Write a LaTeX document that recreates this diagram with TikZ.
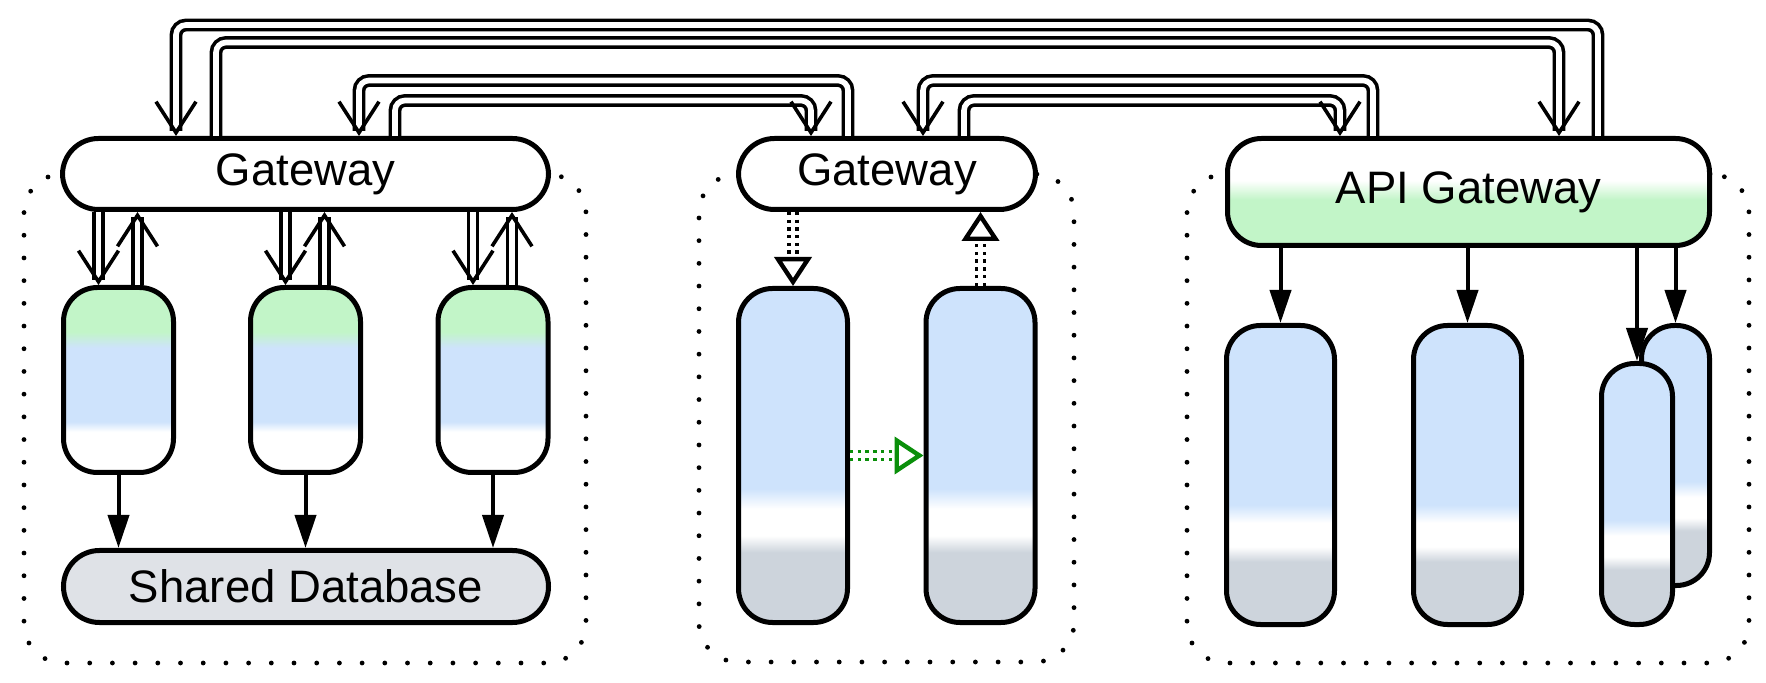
\documentclass[tikz,border=0pt]{standalone}
\usepackage{fontspec}
\setmainfont{Liberation Sans}
\usepackage{xcolor}
\usepackage{tikz}
\usetikzlibrary{positioning,arrows.meta,calc}
\definecolor{ink}{HTML}{000000}
\definecolor{podgreen}{HTML}{C2F5C8}
\definecolor{podblue}{HTML}{CEE3FC}
\definecolor{podgray}{HTML}{CDD4DC}
\definecolor{dbgray}{HTML}{DFE2E7}
\definecolor{syncgreen}{HTML}{0A8F0A}
\pgfdeclareverticalshading{podshade}{100bp}{color(0bp)=(white); color(36bp)=(white); color(38.7bp)=(podblue); color(58.7bp)=(podblue); color(63bp)=(podgreen); color(100bp)=(podgreen)}
\pgfdeclareverticalshading{stackshade}{100bp}{color(0bp)=(podgray); color(35.5bp)=(podgray); color(38bp)=(white); color(42bp)=(white); color(45bp)=(podblue); color(100bp)=(podblue)}
\pgfdeclareverticalshading{apishade}{100bp}{color(0bp)=(podgreen); color(46.4bp)=(podgreen); color(55.4bp)=(white); color(100bp)=(white)}
\tikzset{
  boxbase/.style={draw=ink, line width=2.5pt, inner sep=0pt, font=\fontsize{22.75}{27}\selectfont},
  gate/.style={boxbase, rounded corners=18pt, fill=white},
  svc/.style={boxbase, rounded corners=17pt, shade, shading=stackshade},
  grp/.style={draw=ink, line width=2.4pt, line cap=round, dash pattern=on 0pt off 11.35pt, rounded corners=19.5pt, inner sep=0pt},
  dblarr/.style={draw=ink, double=white, line width=1.8pt, double distance=2.8pt, rounded corners=5pt, -{Straight Barb[length=15.5pt, width=20pt, line width=1.8pt 0 0]}},
  dotarr/.style={draw=ink, double=white, line width=1.7pt, double distance=2.4pt, dash pattern=on 1.7pt off 2.15pt, -{Triangle[open, length=14.5pt, width=18.5pt, line width=2.2pt 0 0]}},
  callarr/.style={draw=ink, line width=2pt, -{Triangle[length=16.5pt, width=10.5pt]}}
}
\begin{document}
\begin{tikzpicture}[x=0.5pt, y=-0.5pt]
  \useasboundingbox (0,0) rectangle (1766,683);
  \node[grp, minimum width=281pt, minimum height=244.5pt] (grpL) at (305,418.5) {};
  \node[grp, minimum width=187.5pt, minimum height=244pt] (grpM) at (886.5,418) {};
  \node[grp, minimum width=281pt, minimum height=244.5pt] (grpR) at (1468,418.5) {};

  \node[gate, minimum width=243pt, minimum height=35.5pt] (gwL) at (305.5,174) {Gateway};
  \foreach \i/\cx in {1/118.5, 2/305.5, 3/493}
    \node[svc, shading=podshade, minimum width=55pt, minimum height=92.5pt] (svcL\i) at (\cx,380) {};
  \node[boxbase, rounded corners=18pt, fill=dbgray, minimum width=242.5pt, minimum height=36pt] (db) at (306,586.5) {Shared Database};

  \node[gate, minimum width=148.5pt, minimum height=35.5pt] (gwM) at (887,174) {Gateway};
  \node[svc, minimum width=54.5pt, minimum height=167pt] (svcM1) at (793,455.5) {};
  \node[svc, minimum width=54.5pt, minimum height=167pt] (svcM2) at (980.5,455.5) {};

  \node[boxbase, rounded corners=17pt, shade, shading=apishade, minimum width=241pt, minimum height=53.5pt] (gwR) at (1468.5,192) {API Gateway};
  \node[svc, minimum width=54pt, minimum height=149.5pt] (svcR1) at (1280.5,475) {};
  \node[svc, minimum width=54pt, minimum height=149.5pt] (svcR2) at (1467.5,475) {};
  \node[svc, rounded corners=16.5pt, minimum width=34pt, minimum height=130pt] (svcR3b) at (1675.5,455.5) {};
  \node[svc, rounded corners=16.5pt, minimum width=35.5pt, minimum height=130.5pt] (svcR3f) at (1637,494) {};

  \draw[dblarr] (gwR.north -| 1598,0) |- (176,25) -- (gwL.north -| 176,0);
  \draw[dblarr] (gwL.north -| 216,0) |- (1559,42.5) -- (gwR.north -| 1559,0);
  \draw[dblarr] (gwM.north -| 848,0) |- (359,80.5) -- (gwL.north -| 359,0);
  \draw[dblarr] (gwL.north -| 395,0) |- (811,100.5) -- (gwM.north -| 811,0);
  \draw[dblarr] (gwR.north -| 1373,0) |- (923,80.5) -- (gwM.north -| 923,0);
  \draw[dblarr] (gwM.north -| 964,0) |- (1340,100.5) -- (gwR.north -| 1340,0);

  \foreach \i in {1,2,3} {
    \draw[dblarr] ([xshift=-10pt]svcL\i.north |- gwL.south) -- ([xshift=-10pt]svcL\i.north);
    \draw[dblarr] ([xshift=9.5pt]svcL\i.north) -- ([xshift=9.5pt]svcL\i.north |- gwL.south);
    \draw[callarr] (svcL\i.south) -- (db.north -| svcL\i);
  }

  \draw[dotarr] (gwM.south -| svcM1) -- (svcM1.north);
  \draw[dotarr] (svcM2.north) -- (gwM.south -| svcM2);
  \draw[dotarr, draw=syncgreen] (svcM1.east) -- (svcM2.west);

  \foreach \n in {svcR1, svcR2, svcR3b, svcR3f}
    \draw[callarr] (gwR.south -| \n) -- (\n.north);
\end{tikzpicture}
\end{document}
